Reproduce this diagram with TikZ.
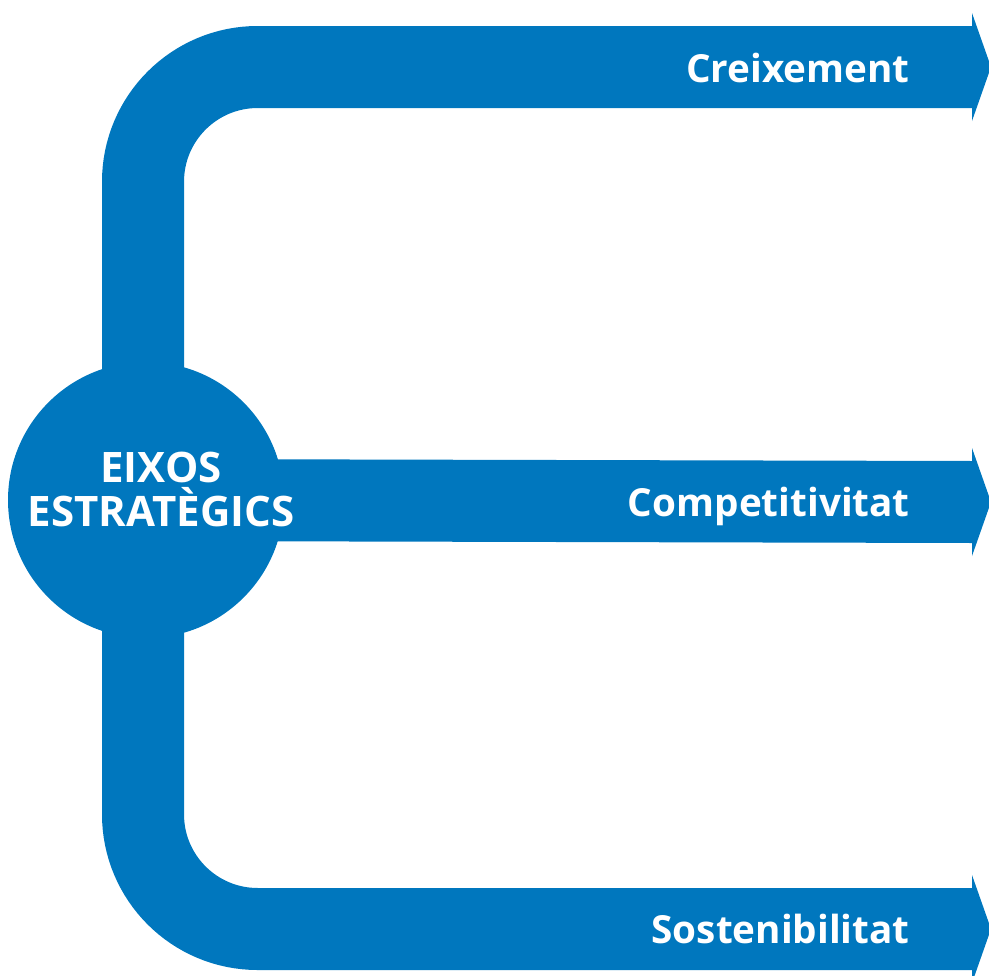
\documentclass[tikz,border=0pt]{standalone}
\usepackage{fontspec}
\setmainfont{Open Sans}
\definecolor{axisblue}{RGB}{0,119,190}
\tikzset{band/.style={draw=axisblue,line width=61.5pt},
  headtip/.style={fill=axisblue},
  hub/.style={circle,fill=axisblue,minimum size=207pt,inner sep=0pt},
  hubtext/.style={text=white,font=\bfseries\fontsize{31.5}{33}\selectfont,align=center},
  axislabel/.style={text=white,font=\bfseries\fontsize{29}{36}\selectfont,anchor=base east,inner sep=0pt}}
\begin{document}
\begin{tikzpicture}[x=0.75pt,y=-0.75pt]
\useasboundingbox (0,0) rectangle (989,975);
\coordinate (top) at (973,67);
\coordinate (mid) at (973,502);
\coordinate (bot) at (973,929);
\draw[band,rounded corners=86pt](top)--(143,67)--(143,929)--(bot);
\node[hub](hub) at (146,500) {};
\draw[band](hub.center)--(mid);
\foreach \p in {top,mid,bot}
  \fill[headtip](\p)++(-1,-54)--++(19,54)--++(-19,54)--cycle;
\node[hubtext](axes) at (161,489) {EIXOS\\ESTRATÈGICS};
\node[axislabel](growth) at (910,82) {Creixement};
\node[axislabel](compet) at (910,516) {Competitivitat};
\node[axislabel](sustain) at (910,943) {Sostenibilitat};
\end{tikzpicture}
\end{document}
